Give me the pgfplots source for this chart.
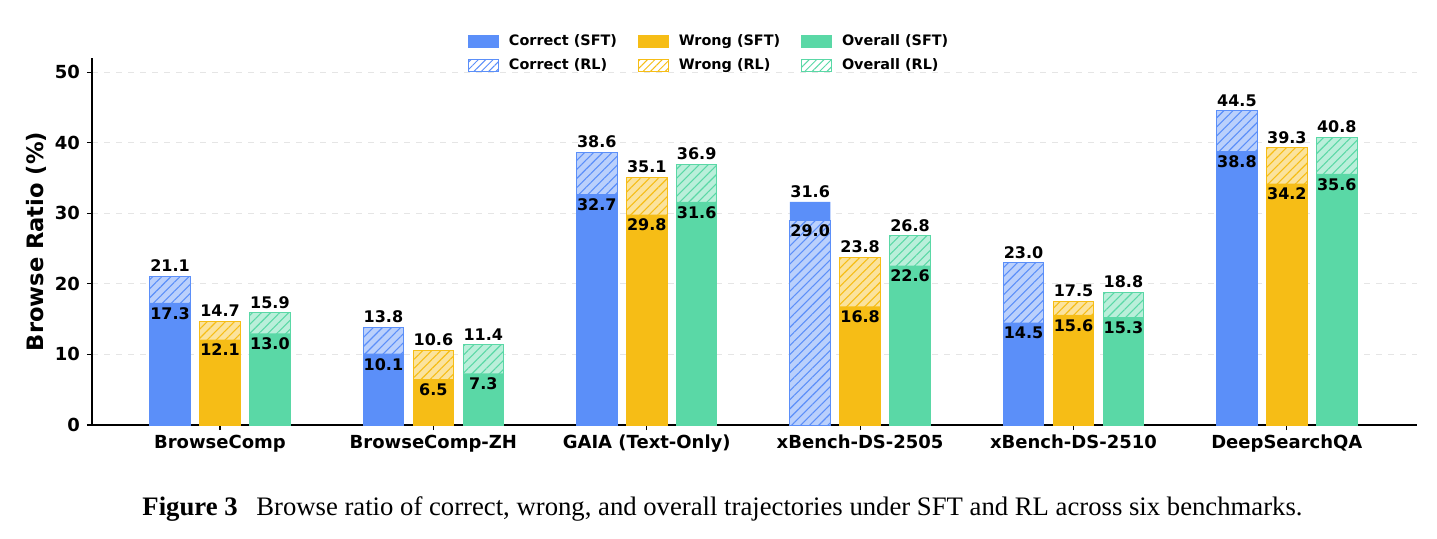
\documentclass[border=0pt]{standalone}
\usepackage{fontspec}
\setmainfont{DejaVu Sans}
\newfontfamily\capfont{Liberation Serif}
\usepackage{pgfplots}
\pgfplotsset{compat=1.18}
\usepackage{pgfplotstable}
\usetikzlibrary{patterns.meta}

\definecolor{cblue}{RGB}{91,143,249}
\definecolor{cyellow}{RGB}{246,189,22}
\definecolor{cgreen}{RGB}{90,216,166}

% browse ratio (%) per benchmark: SFT and RL
\pgfplotstableread{
x sft rl
0 17.3 21.1
1 10.1 13.8
2 32.7 38.6
3 31.6 29.0
4 14.5 23.0
5 38.8 44.5
}\correct
\pgfplotstableread{
x sft rl
0 12.1 14.7
1 6.5 10.6
2 29.8 35.1
3 16.8 23.8
4 15.6 17.5
5 34.2 39.3
}\wrong
\pgfplotstableread{
x sft rl
0 13.0 15.9
1 7.3 11.4
2 31.6 36.9
3 22.6 26.8
4 15.3 18.8
5 35.6 40.8
}\overall

\newcommand\barfont{\bfseries\fontsize{8}{9.6}\selectfont}

\pgfplotsset{
  barpos/.style={ybar, bar width=0.19, bar shift=#1, forget plot},
  solidbar/.style={fill=#1, draw=none},
  hatchbar/.style={fill=#1!42!white, draw=#1, line width=0.5pt,
    postaction={pattern={Lines[angle=45,distance=3.2pt,line width=0.55pt]}, pattern color=#1}},
  valuelabel/.style={draw=none, mark=none, forget plot, point meta=y,
    nodes near coords={\pgfmathprintnumber[fixed,fixed zerofill,precision=1]{\pgfplotspointmeta}},
    nodes near coords align={#1},
    every node near coord/.append style={font=\barfont, inner sep=2pt, text=black}},
}

% one group of bars: RL hatched, SFT solid, RL again on top where it is shorter
\newcommand\bargroup[3]{%
  \addplot[barpos=#3, hatchbar=#2] table[x=x, y=rl]{#1};
  \addplot[barpos=#3, solidbar=#2] table[x=x, y=sft]{#1};
  \addplot[barpos=#3, hatchbar=#2, restrict y to domain=0:100]
    table[x=x, y expr={\thisrow{rl}<\thisrow{sft} ? \thisrow{rl} : -1}]{#1};
}
% larger value printed above the bar, smaller one just inside it
\newcommand\labelgroup[2]{%
  \addplot[valuelabel=above] table[x expr={\thisrow{x}+#2}, y expr={max(\thisrow{sft},\thisrow{rl})}]{#1};
  \addplot[valuelabel=below] table[x expr={\thisrow{x}+#2}, y expr={min(\thisrow{sft},\thisrow{rl})}]{#1};
}

\begin{document}
\begin{tikzpicture}
\path[use as bounding box] (-46pt,-56.5pt) rectangle (672.5pt,212.5pt);
\begin{axis}[
  at={(0,0)}, anchor=south west,
  scale only axis, width=662.5pt, height=183.5pt,
  xmin=-0.6, xmax=5.61, ymin=0, ymax=52,
  axis x line*=bottom, axis y line*=left,
  axis line style={-, black, line width=0.7pt},
  xtick={0,...,5},
  xticklabels={BrowseComp, BrowseComp-ZH, GAIA (Text-Only), xBench-DS-2505, xBench-DS-2510, DeepSearchQA},
  ytick={0,10,...,50},
  tick align=outside, major tick length=2.5pt,
  tick style={black, line width=0.6pt},
  ymajorgrids, grid style={dashed, gray!20, line width=0.4pt},
  /pgf/number format/assume math mode=true,
  ticklabel style={font=\bfseries\fontsize{9}{10.8}\selectfont},
  xticklabel style={yshift=1.2pt},
  ylabel={Browse Ratio (\%)},
  ylabel style={font=\bfseries\fontsize{11.3}{13.5}\selectfont, at={(axis description cs:-0.0423,0.5)}, anchor=center},
  legend columns=3,
  legend cell align=left,
  legend image code/.code={\path[#1] (0pt,-2.8pt) rectangle (15pt,2.8pt);},
  legend style={at={(0.4665,1.087)}, anchor=north, draw=none, fill=none,
    font=\bfseries\fontsize{7.2}{8.6}\selectfont, row sep=1pt,
    /tikz/every odd column/.append style={column sep=3pt},
    /tikz/every even column/.append style={column sep=8.5pt}},
]
\bargroup{\correct}{cblue}{-0.234}
\bargroup{\wrong}{cyellow}{0}
\bargroup{\overall}{cgreen}{0.234}
\labelgroup{\correct}{-0.234}
\labelgroup{\wrong}{0}
\labelgroup{\overall}{0.234}

\addlegendimage{fill=cblue, draw=cblue}
\addlegendentry{Correct (SFT)}
\addlegendimage{fill=cyellow, draw=cyellow}
\addlegendentry{Wrong (SFT)}
\addlegendimage{fill=cgreen, draw=cgreen}
\addlegendentry{Overall (SFT)}
\addlegendimage{fill=white, draw=cblue, postaction={pattern={Lines[angle=45,distance=2.6pt,line width=0.5pt]}, pattern color=cblue}}
\addlegendentry{Correct (RL)}
\addlegendimage{fill=white, draw=cyellow, postaction={pattern={Lines[angle=45,distance=2.6pt,line width=0.5pt]}, pattern color=cyellow}}
\addlegendentry{Wrong (RL)}
\addlegendimage{fill=white, draw=cgreen, postaction={pattern={Lines[angle=45,distance=2.6pt,line width=0.5pt]}, pattern color=cgreen}}
\addlegendentry{Overall (RL)}
\end{axis}
\node[anchor=base, font=\capfont\fontsize{13.35}{16}\selectfont] at (315.25pt,-45pt)
  {\textbf{Figure 3}\hspace{0.7em}Browse ratio of correct, wrong, and overall trajectories under SFT and RL across six benchmarks.};
\end{tikzpicture}
\end{document}
